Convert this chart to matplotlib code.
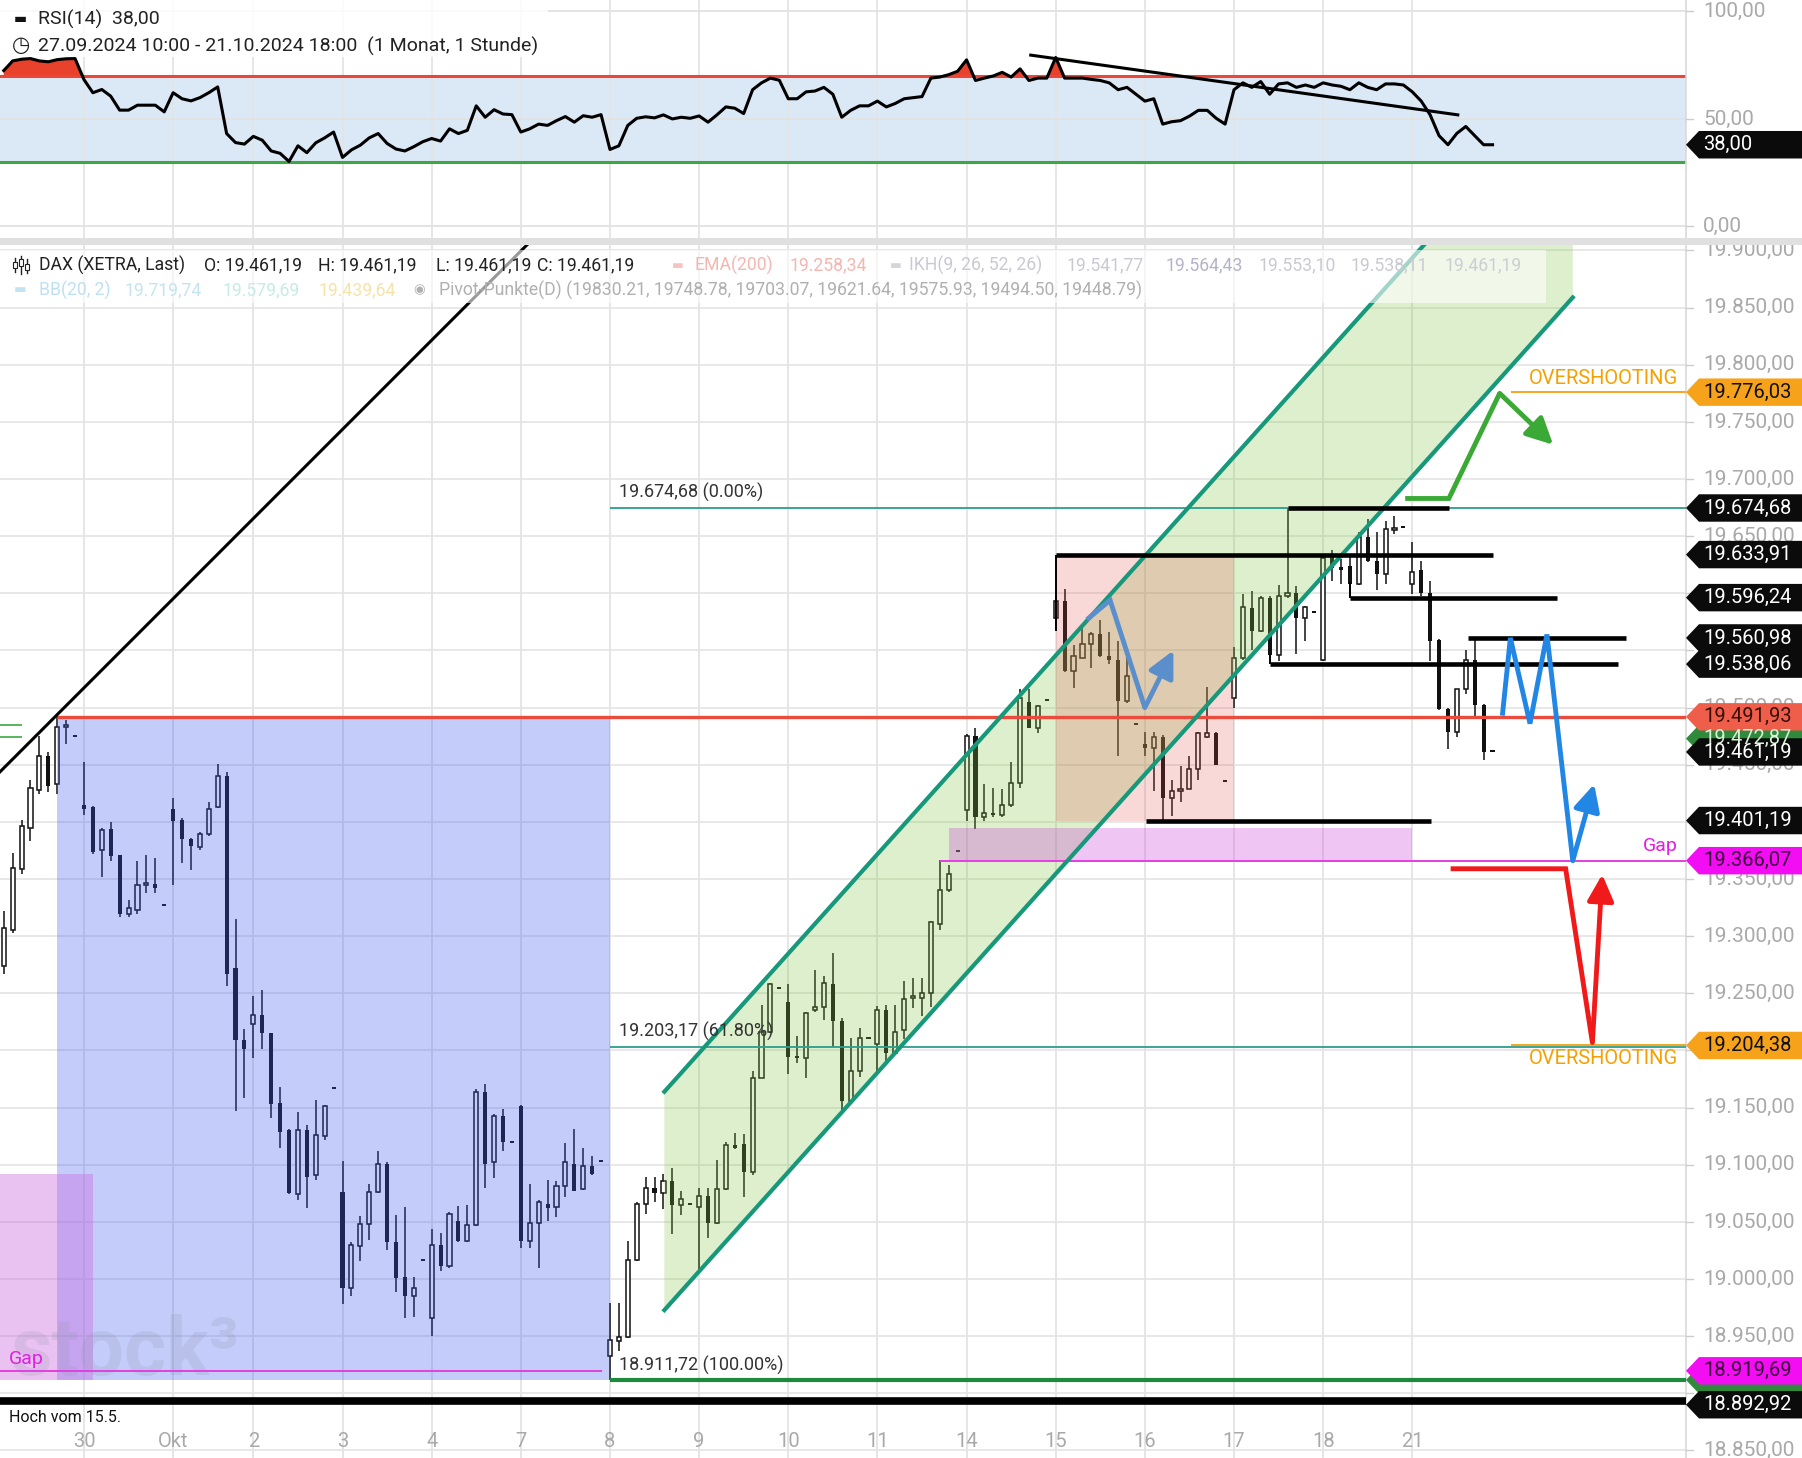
import matplotlib
matplotlib.use("Agg")
import matplotlib.pyplot as plt
import matplotlib.transforms as mtransforms
from matplotlib.patches import Polygon, Rectangle
import numpy as np

plt.rcParams["font.family"] = ["Roboto", "DejaVu Sans"]

# =============================================================================
# layout (pixels of the 1802 x 1458 output)
# =============================================================================
W, H, DPI = 1802, 1458, 100
PLOT_W = 1686            # width of the plot area, price labels sit right of it
RSI_BOTTOM = 238
PRICE_TOP = 245
X_LIM = (-0.42, 188.7)   # candle index units
RSI_LIM = (-5.4, 105.35)
PRICE_LIM = (18843.4, 19904.8)

# =============================================================================
# data (hourly DAX candles, one index per candle)
# =============================================================================
day_labels = ["30", "Okt", "2", "3", "4", "7", "8", "9", "10", "11", "14", "15", "16", "17", "18", "21"]
day_starts = [9, 19, 28, 38, 48, 58, 68, 78, 88, 98, 108, 118, 128, 138, 148, 158]

opens = [
    19274, 19305, 19359, 19395, 19428, 19458, 19433, 19483, 19474,                   # 27.09
    19415, 19413, 19375, 19394, 19371, 19319, 19323, 19345, 19346, 19326,            # 30.09
    19411, 19402, 19385, 19378, 19389, 19413, 19440, 19272, 19209,                   # 01.10
    19223, 19231, 19215, 19154, 19130, 19074, 19130, 19091, 19125, 19166,            # 02.10
    19076, 18992, 19029, 19048, 19076, 19101, 19032, 19002, 18985, 19016,            # 03.10
    18966, 19030, 19011, 19051, 19033, 19047, 19164, 19102, 19143, 19119,            # 04.10
    19151, 19033, 19049, 19066, 19063, 19081, 19101, 19079, 19099, 19102,            # 07.10
    18933, 18946, 18949, 19017, 19066, 19080, 19075, 19086, 19065, 19065,            # 08.10
    19063, 19073, 19049, 19079, 19117, 19118, 19094, 19176, 19216, 19254,            # 09.10
    19242, 19194, 19193, 19235, 19238, 19258, 19226, 19156, 19182, 19210,            # 10.10
    19206, 19235, 19198, 19218, 19246, 19246, 19250, 19311, 19340, 19374,            # 11.10
    19410, 19475, 19404, 19408, 19406, 19415, 19434, 19505, 19482, 19506,            # 14.10
    19578, 19593, 19532, 19543, 19556, 19564, 19545, 19542, 19506, 19485,            # 15.10
    19468, 19465, 19474, 19421, 19427, 19429, 19446, 19474, 19478, 19435,            # 16.10
    19508, 19543, 19587, 19567, 19596, 19546, 19598, 19600, 19578, 19583,            # 17.10
    19542, 19632, 19623, 19624, 19608, 19649, 19628, 19617, 19655, 19657,            # 18.10
    19608, 19620, 19600, 19559, 19499, 19479, 19516, 19542, 19502, 19461.19,         # 21.10
]
highs = [
    19322, 19373, 19402, 19437, 19475, 19461, 19494, 19489, 19474,
    19452, 19414, 19395, 19400, 19371, 19332, 19366, 19371, 19368, 19326,
    19421, 19403, 19386, 19391, 19417, 19451, 19444, 19315, 19219,
    19248, 19253, 19215, 19168, 19131, 19146, 19135, 19157, 19152, 19166,
    19103, 19032, 19055, 19083, 19112, 19102, 19056, 19063, 19002, 19016,
    19044, 19040, 19059, 19064, 19065, 19166, 19171, 19144, 19149, 19119,
    19152, 19083, 19069, 19087, 19086, 19119, 19131, 19115, 19108, 19102,
    18979, 18979, 19033, 19067, 19089, 19089, 19092, 19097, 19077, 19065,
    19080, 19080, 19104, 19120, 19128, 19127, 19182, 19240, 19259, 19254,
    19258, 19213, 19234, 19270, 19265, 19285, 19228, 19211, 19220, 19210,
    19239, 19240, 19240, 19261, 19263, 19263, 19313, 19367, 19362, 19374,
    19477, 19482, 19433, 19430, 19429, 19452, 19516, 19516, 19502, 19506,
    19597, 19604, 19555, 19570, 19566, 19577, 19566, 19558, 19546, 19485,
    19479, 19479, 19476, 19437, 19449, 19458, 19479, 19518, 19479, 19435,
    19553, 19599, 19602, 19598, 19598, 19607, 19674.68, 19606, 19589, 19583,
    19632, 19638, 19630, 19632, 19654, 19665, 19654, 19663, 19668, 19657,
    19645, 19628, 19611, 19560, 19500, 19516, 19550, 19559, 19503, 19461.19,
]
lows = [
    19267, 19303, 19354, 19383, 19424, 19426, 19424, 19468, 19474,
    19406, 19372, 19352, 19366, 19317, 19317, 19319, 19338, 19338, 19326,
    19345, 19364, 19358, 19375, 19388, 19412, 19256, 19147, 19158,
    19193, 19201, 19141, 19115, 19074, 19069, 19062, 19087, 19122, 19166,
    18978, 18985, 19016, 19034, 19075, 19025, 18989, 18966, 18967, 19016,
    18950, 19007, 19010, 19032, 19032, 19046, 19080, 19088, 19112, 19119,
    19027, 19027, 19010, 19051, 19054, 19072, 19077, 19078, 19091, 19102,
    18911.72, 18937, 18948, 19016, 19057, 19067, 19061, 19039, 19056, 19065,
    19006, 19036, 19048, 19078, 19114, 19072, 19091, 19176, 19215, 19254,
    19179, 19189, 19176, 19234, 19227, 19203, 19147, 19153, 19177, 19210,
    19181, 19187, 19197, 19210, 19237, 19230, 19238, 19305, 19339, 19374,
    19401, 19394, 19401, 19404, 19404, 19413, 19430, 19482, 19478, 19506,
    19567, 19531, 19517, 19543, 19535, 19544, 19538, 19458, 19504, 19485,
    19458, 19427, 19402, 19405, 19417, 19429, 19437, 19473, 19450, 19435,
    19500, 19542, 19550, 19566, 19545, 19541, 19596, 19547, 19558, 19583,
    19541, 19611, 19608, 19596, 19607, 19627, 19603, 19608, 19652, 19657,
    19599, 19598, 19541, 19498, 19464, 19474, 19512, 19493, 19454, 19461.19,
]
closes = [
    19307, 19360, 19396, 19430, 19458, 19431, 19483, 19485, 19474,
    19411, 19374, 19393, 19370, 19319, 19325, 19345, 19346, 19342, 19326,
    19401, 19385, 19379, 19389, 19411, 19440, 19267, 19209, 19201,
    19231, 19215, 19153, 19129, 19075, 19130, 19089, 19126, 19151, 19166,
    18992, 19030, 19048, 19076, 19101, 19032, 19001, 18985, 18992, 19016,
    19030, 19011, 19057, 19033, 19047, 19164, 19101, 19143, 19120, 19119,
    19033, 19049, 19067, 19062, 19081, 19102, 19077, 19099, 19092, 19102,
    18947, 18949, 19017, 19066, 19080, 19075, 19086, 19065, 19070, 19065,
    19073, 19049, 19079, 19117, 19115, 19094, 19176, 19216, 19258, 19254,
    19194, 19193, 19233, 19238, 19259, 19226, 19156, 19182, 19211, 19210,
    19235, 19198, 19216, 19245, 19248, 19250, 19312, 19340, 19354, 19374,
    19475, 19404, 19408, 19406, 19415, 19434, 19508, 19482, 19501, 19506,
    19593, 19532, 19545, 19556, 19564, 19545, 19542, 19506, 19528, 19485,
    19465, 19474, 19421, 19427, 19429, 19446, 19478, 19478, 19450, 19435,
    19543, 19588, 19567, 19596, 19546, 19598, 19600, 19578, 19588, 19583,
    19631, 19622, 19620, 19608, 19649, 19628, 19617, 19656, 19657, 19657,
    19619, 19600, 19558, 19499, 19479, 19516, 19542, 19502, 19461, 19461.19,
]
rsi14 = [
    72.5, 77.0, 77.8, 78.1, 77.0, 76.6, 77.6, 78.0, 78.1,
    68.3, 62.2, 63.7, 60.6, 54.1, 54.1, 56.4, 56.4, 56.4, 53.3,
    62.2, 59.4, 58.4, 59.9, 62.2, 64.9, 43.2, 39.0, 38.3,
    41.9, 40.1, 35.1, 34.0, 30.2, 37.5, 34.3, 38.9, 41.2, 43.9,
    32.1, 35.6, 37.8, 41.2, 43.2, 38.6, 36.0, 35.1, 37.1, 39.4,
    40.9, 39.7, 45.4, 43.2, 44.7, 56.1, 50.8, 54.3, 52.3, 52.0,
    43.9, 45.4, 47.6, 47.0, 49.2, 51.1, 48.5, 51.5, 50.8, 52.0,
    35.8, 37.5, 47.0, 50.3, 51.0, 50.5, 51.9, 50.0, 50.8, 50.3,
    51.4, 48.5, 51.9, 55.6, 55.0, 52.5, 63.6, 66.8, 69.0, 68.0,
    59.4, 59.4, 62.6, 63.0, 64.7, 61.5, 50.8, 54.0, 56.1, 56.1,
    58.3, 55.6, 57.2, 59.4, 59.9, 60.4, 69.0, 69.5, 70.6, 72.2,
    77.5, 67.9, 69.0, 70.0, 71.7, 69.5, 73.3, 67.9, 69.0, 69.0,
    78.6, 69.0, 69.0, 69.0, 68.4, 67.9, 66.8, 63.6, 64.7, 61.5,
    58.3, 59.4, 47.6, 48.7, 49.2, 51.3, 54.0, 54.0, 50.3, 47.6,
    63.6, 66.8, 64.7, 67.4, 61.5, 66.3, 66.8, 64.7, 65.8, 64.7,
    66.8, 65.8, 65.2, 63.6, 66.8, 64.7, 63.6, 66.3, 66.3, 65.8,
    62.6, 58.3, 51.9, 42.2, 38.0, 43.3, 46.5, 42.2, 38.0, 38.0,
]
rsi_trend_x = [115.2, 163.1]
rsi_trend_y = [79.7, 51.9]

price_ticks = list(range(18850, 19901, 50))
rsi_ticks = [0, 50, 100]

# horizontal levels
fib_0, fib_618, fib_100 = 19674.68, 19203.17, 18911.72
red_level = 19491.93
gap_level = 19366.07
gap_low = 18919.69
hoch_level = 18892.92
over_hi, over_lo = 19776.03, 19204.38
# drawn black support/resistance lines: (price, start index, end index)
black_lines = [(19674.68, 144, 162.1), (19633.91, 118, 167), (19596.24, 151, 174.2),
               (19560.98, 164.3, 182.0), (19538.06, 142, 181.1), (19401.19, 128.1, 160.1)]
# channel
chan_x0, chan_x1 = 74.1, 176.0
chan_up0, chan_lo0, chan_slope = 19163.9, 18972.8, 8.696
diag_x = [-1.0, 62.0]
diag_y = [19439.3, 19930.7]

# projection arrows (index, price)
green_path = [(157.2, 19683), (162.1, 19683), (167.8, 19775), (173.8, 19730)]
steel_path = [(121.5, 19577), (124.1, 19594), (128.0, 19500), (131.2, 19550)]
blue_path = [(168.1, 19493), (169.0, 19561), (171.2, 19486), (173.1, 19564), (176.0, 19366), (178.4, 19433)]
red_path = [(162.3, 19359), (175.2, 19359), (178.2, 19207), (179.3, 19354)]

price_tags = [  # value, text, face, text colour (draw order)
    (19776.03, "19.776,03", "#f7a21b", "#111111"),
    (19674.68, "19.674,68", "#0b0b0b", "white"),
    (19633.91, "19.633,91", "#0b0b0b", "white"),
    (19596.24, "19.596,24", "#0b0b0b", "white"),
    (19560.98, "19.560,98", "#0b0b0b", "white"),
    (19538.06, "19.538,06", "#0b0b0b", "white"),
    (19472.87, "19.472,87", "#2f8a3b", "#d8efd8"),
    (19491.93, "19.491,93", "#ef5e4a", "#3a0f08"),
    (19461.19, "19.461,19", "#0b0b0b", "white"),
    (19401.19, "19.401,19", "#0b0b0b", "white"),
    (19366.07, "19.366,07", "#f20df2", "#3a003a"),
    (19204.38, "19.204,38", "#f7a21b", "#111111"),
    (18911.72, "", "#2f8a3b", "white"),
    (18919.69, "18.919,69", "#f20df2", "#3a003a"),
    (18890.0, "18.892,92", "#0b0b0b", "white"),
]


def de_num(v):
    s = f"{v:,.2f}"
    return s.replace(",", "X").replace(".", ",").replace("X", ".")


def fx(px):
    return px / W


def fy(py):
    return 1 - py / H


def add_tag(axis, y, text, face, fg, half):
    tr = mtransforms.blended_transform_factory(axis.transAxes, axis.transData)
    x0, x1, x2 = 1.0, 1 + 13 / PLOT_W, 1 + 120 / PLOT_W
    poly = Polygon([(x0, y), (x1, y + half), (x2, y + half), (x2, y - half), (x1, y - half)],
                   closed=True, transform=tr, facecolor=face, edgecolor="none", clip_on=False, zorder=20)
    axis.add_patch(poly)
    if text:
        axis.text(1 + 17 / PLOT_W, y, text, transform=tr, color=fg, fontsize=14.5, va="center", ha="left",
                  clip_on=False, zorder=20.5)


def right_labels(axis, values, fmt, hidden=()):
    tr = mtransforms.blended_transform_factory(axis.transAxes, axis.transData)
    for v in values:
        axis.plot([1.0, 1.0 + 7 / PLOT_W], [v, v], transform=tr, color="#cccccc", lw=1, clip_on=False, zorder=14)
        # labels lying completely under a price tag are not drawn
        if any(abs(v - t) < 6.5 for t in hidden):
            continue
        axis.text(1 + 17 / PLOT_W, v, fmt(v), transform=tr, color="#a9a9a9", fontsize=15, va="center", ha="left",
                  clip_on=False, zorder=14)


def arrow_path(axis, pts, color, lw=3.5):
    xs, ys = zip(*pts[:-1])
    axis.plot(xs, ys, color=color, lw=lw, solid_joinstyle="miter", solid_capstyle="butt", zorder=9)
    axis.annotate("", xy=pts[-1], xytext=pts[-2],
                  arrowprops=dict(arrowstyle="-|>,head_length=0.4,head_width=0.2", color=color, lw=lw,
                                  shrinkA=0, shrinkB=0, mutation_scale=40), zorder=9)


fig = plt.figure(figsize=(W / DPI, H / DPI), dpi=DPI, facecolor="white")
ax_rsi = fig.add_axes([0, fy(RSI_BOTTOM), PLOT_W / W, RSI_BOTTOM / H])
ax = fig.add_axes([0, 0, PLOT_W / W, (H - PRICE_TOP) / H])

for a, lim in ((ax_rsi, RSI_LIM), (ax, PRICE_LIM)):
    a.set_xlim(*X_LIM)
    a.set_ylim(*lim)
    a.set_xticks([])
    a.set_yticks([])
    for side in ("left", "top", "bottom"):
        a.spines[side].set_visible(False)
    a.spines["right"].set_color("#d9d9d9")
    a.spines["right"].set_linewidth(1.2)
    for d in day_starts:
        a.axvline(d, color="#e4e4e4", lw=1.3, zorder=0.5)

# ---------------- RSI panel ----------------
ax_rsi.axhspan(30, 70, color="#dbe8f5", zorder=0.3, lw=0)
for v in rsi_ticks:
    ax_rsi.axhline(v, color="#e2e2e2", lw=1.3, zorder=0.5)
x = np.arange(len(rsi14))
r = np.array(rsi14)
ax_rsi.fill_between(x, r, 70, where=r > 70, interpolate=True, color="#e8412c", lw=0, zorder=1)
ax_rsi.axhline(70, color="#e8473a", lw=2.2, zorder=2)
ax_rsi.axhline(30, color="#3fa646", lw=2.2, zorder=2)
ax_rsi.plot(x, r, color="black", lw=2.2, zorder=3)
ax_rsi.plot(rsi_trend_x, rsi_trend_y, color="black", lw=2.2, zorder=3)
right_labels(ax_rsi, rsi_ticks, lambda v: de_num(v))
add_tag(ax_rsi, rsi14[-1], "38,00", "#0b0b0b", "white", 6.4)

# ---------------- price panel: grid + candles ----------------
for v in price_ticks:
    ax.axhline(v, color="#e4e4e4", lw=1.2, zorder=0.5)

o, h, l, c = (np.array(v, dtype=float) for v in (opens, highs, lows, closes))
xi = np.arange(len(o))
dash = (h - l) < 0.5
up = (c >= o) & ~dash
down = ~up
ax.vlines(xi, l, h, color="#111111", lw=1.1, zorder=3)
lo = np.minimum(o, c)
ht = np.maximum(np.abs(c - o), 1.8)
ax.bar(xi[up], ht[up], bottom=lo[up], width=0.46, facecolor="white", edgecolor="#111111", linewidth=1.1, zorder=3.2)
ax.bar(xi[down], ht[down], bottom=lo[down], width=0.46, color="#111111", lw=0, zorder=3.2)

# ---------------- translucent zones ----------------
ax.add_patch(Rectangle((6.0, fib_100), 62.0, red_level - fib_100, facecolor=(0.235, 0.35, 0.94), alpha=0.3,
                       lw=0, zorder=4))
ax.add_patch(Rectangle((X_LIM[0], fib_100), 10.4, 19091.5 - fib_100, facecolor=(0.80, 0.43, 0.88), alpha=0.42,
                       lw=0, zorder=4.1))
chan = [(chan_x0, chan_lo0), (chan_x0, chan_up0),
        (chan_x1, chan_up0 + chan_slope * (chan_x1 - chan_x0)), (chan_x1, chan_lo0 + chan_slope * (chan_x1 - chan_x0))]
ax.add_patch(Polygon(chan, closed=True, facecolor=(0.51, 0.78, 0.27), alpha=0.27, lw=0, zorder=4.2))
ax.add_patch(Rectangle((118, 19401.19), 20, 19633.91 - 19401.19, facecolor=(0.90, 0.31, 0.31), alpha=0.22,
                       lw=0, zorder=4.3))
ax.add_patch(Rectangle((106, gap_level), 52, 29, facecolor=(0.80, 0.25, 0.86), alpha=0.3, lw=0, zorder=4.4))
ax.text(0.8, 18916, "stock³", fontsize=58, fontweight="bold", color="#8f95aa", alpha=0.2, va="baseline",
        ha="left", zorder=4.5)

# ---------------- lines ----------------
right_end = X_LIM[1]
ax.hlines(red_level, 6.0, right_end, color="#ea4b3c", lw=2.4, zorder=6)
ax.hlines([19484.6, 19474.4], X_LIM[0], 2.0, color="#4caf50", lw=1.3, zorder=6)
ax.plot(diag_x, diag_y, color="black", lw=2.2, zorder=6)
ax.hlines([fib_0, fib_618], 68, right_end, color="#2b9d8e", lw=1.3, zorder=6)
ax.hlines(fib_100, 68, right_end, color="#1f8a3c", lw=3.0, zorder=6)
ax.hlines(gap_low, X_LIM[0], 67.1, color="#e040e0", lw=1.4, zorder=6)
ax.hlines(hoch_level, X_LIM[0], right_end, color="black", lw=5.5, zorder=6)
ax.hlines(gap_level, 105, right_end, color="#e23ee2", lw=1.4, zorder=6)
ax.hlines([over_hi, over_lo], 169.1, right_end, color="#f5a623", lw=1.4, zorder=6.5)
ax.plot([chan_x0, chan_x1], [chan_up0, chan_up0 + chan_slope * (chan_x1 - chan_x0)], color="#17987a", lw=3.0, zorder=7)
ax.plot([chan_x0, chan_x1], [chan_lo0, chan_lo0 + chan_slope * (chan_x1 - chan_x0)], color="#17987a", lw=3.0, zorder=7)
for price, x0, x1 in black_lines:
    ax.hlines(price, x0, x1, color="black", lw=3.3, zorder=7.5)
ax.vlines(118, 19567, 19633.91, color="black", lw=1.4, zorder=7.5)
ax.vlines(151, 19596.24, 19610, color="black", lw=1.4, zorder=7.5)
ax.vlines(142, 19538.06, 19546, color="black", lw=1.4, zorder=7.5)

arrow_path(ax, green_path, "#3aa935")
arrow_path(ax, steel_path, "#5b8fcb")
arrow_path(ax, blue_path, "#2186e4")
arrow_path(ax, red_path, "#f01a1a")

# ---------------- texts in the price panel ----------------
ax.text(69.0, fib_0 + 5, "19.674,68 (0.00%)", fontsize=13, color="#333333", va="bottom", zorder=10)
ax.text(69.0, fib_618 + 5, "19.203,17 (61.80%)", fontsize=13, color="#333333", va="bottom", zorder=10)
ax.text(69.0, fib_100 + 4, "18.911,72 (100.00%)", fontsize=13, color="#333333", va="bottom", zorder=10)
ax.text(187.8, over_hi + 4, "OVERSHOOTING", fontsize=14.5, color="#f5a000", ha="right", va="bottom", zorder=10)
ax.text(187.8, over_lo - 3, "OVERSHOOTING", fontsize=14.5, color="#f5a000", ha="right", va="top", zorder=10)
ax.text(187.8, gap_level + 5, "Gap", fontsize=14, color="#e020e0", ha="right", va="bottom", zorder=10)
ax.text(0.6, 18930, "Gap", fontsize=14, color="#e020e0", ha="left", va="center", zorder=10)
ax.text(0.6, 18879, "Hoch vom 15.5.", fontsize=11.5, color="#111111", ha="left", va="center", zorder=10)

trx = mtransforms.blended_transform_factory(ax.transData, ax.transAxes)
for d, lab in zip(day_starts, day_labels):
    ax.text(d, 0.014, lab, transform=trx, fontsize=14.5, color="#a9a9a9", ha="center", va="center", zorder=10)

right_labels(ax, price_ticks, de_num, hidden=[t[0] for t in price_tags])
for val, txt, face, fg in price_tags:
    add_tag(ax, val, txt, face, fg, 12.0)

# separator between the panels
fig.add_artist(Rectangle((0, fy(PRICE_TOP)), 1, (PRICE_TOP - RSI_BOTTOM) / H, transform=fig.transFigure,
                         facecolor="#e0e0e0", lw=0, zorder=1))

# ---------------- header boxes ----------------
fig.add_artist(Rectangle((0, fy(57)), fx(548), 57 / H, transform=fig.transFigure, facecolor="white", alpha=0.85,
                         lw=0, zorder=2))
fig.text(fx(14), fy(19.5), "▬", fontsize=10, color="#111111", va="center", zorder=3)
fig.text(fx(38), fy(19.5), "RSI(14)  38,00", fontsize=14, color="#222222", va="center", zorder=3)
fig.text(fx(12), fy(46), "◷", fontsize=15, color="#222222", va="center", zorder=3)
fig.text(fx(38), fy(46), "27.09.2024 10:00 - 21.10.2024 18:00  (1 Monat, 1 Stunde)", fontsize=14,
         color="#222222", va="center", zorder=3)

fig.add_artist(Rectangle((0, fy(303)), fx(1546), 53 / H, transform=fig.transFigure, facecolor="white", alpha=0.6,
                         lw=0, zorder=2))
# small candle icon
for cx, y0, y1, b0, b1 in ((15, 258, 272, 262, 268), (21, 256, 274, 259, 266), (27, 259, 273, 264, 270)):
    fig.add_artist(plt.Line2D([fx(cx), fx(cx)], [fy(y0), fy(y1)], transform=fig.transFigure, color="#222222",
                              lw=1, zorder=3))
    fig.add_artist(Rectangle((fx(cx - 1.8), fy(b1)), fx(3.6), (b1 - b0) / H, transform=fig.transFigure,
                             facecolor="white", edgecolor="#222222", lw=0.8, zorder=3.1))
row1 = [(39, "DAX (XETRA, Last)", "#222222"), (204, "O: 19.461,19", "#222222"), (318, "H: 19.461,19", "#222222"),
        (436, "L: 19.461,19", "#222222"), (537, "C: 19.461,19", "#222222"), (672, "▬", "#f6c3bf"),
        (694, "EMA(200)", "#f4b6b0"), (790, "19.258,34", "#f4b6b0"), (890, "▬", "#d4d4dc"),
        (909, "IKH(9, 26, 52, 26)", "#c9c9d4"), (1067, "19.541,77", "#c9c9d4"), (1166, "19.564,43", "#b3b3c9"),
        (1259, "19.553,10", "#c9c9d4"), (1351, "19.538,11", "#c9c9d4"), (1445, "19.461,19", "#cdcdd6")]
row2 = [(14, "▬", "#c3e2f3"), (39, "BB(20, 2)", "#bfe0f2"), (125, "19.719,74", "#c4e4f2"),
        (223, "19.579,69", "#c6ebe6"), (319, "19.439,64", "#f6e3a8"), (413, "◉", "#b0b0b0"),
        (439, "Pivot-Punkte(D) (19830.21, 19748.78, 19703.07, 19621.64, 19575.93, 19494.50, 19448.79)", "#b0b0b0")]
for px, txt, col in row1:
    fig.text(fx(px), fy(265), txt, fontsize=12.7 if txt != "▬" else 9, color=col, va="center", zorder=3)
for px, txt, col in row2:
    fig.text(fx(px), fy(290), txt, fontsize=12.7 if txt not in ("▬", "◉") else 9.5, color=col, va="center",
             zorder=3)

fig.savefig("out.png", dpi=DPI, facecolor="white")
